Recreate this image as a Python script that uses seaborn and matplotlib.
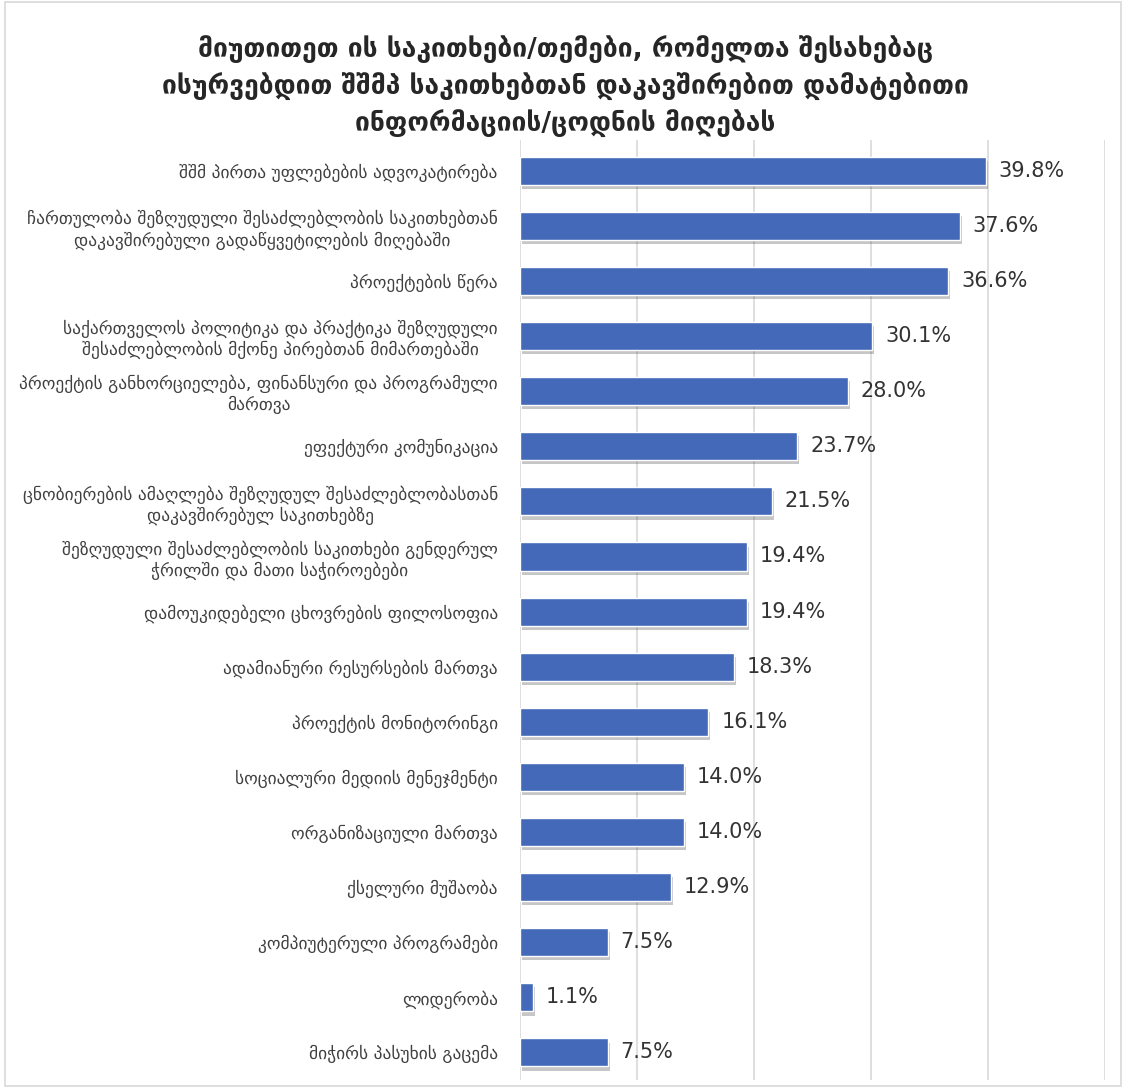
import numpy as np
import pandas as pd
import matplotlib
matplotlib.use('agg')
import matplotlib.pyplot as plt
import matplotlib.patheffects as pe
from matplotlib.patches import Rectangle
import seaborn as sns

# Chart data
title = ("მიუთითეთ ის საკითხები/თემები, რომელთა შესახებაც\n"
         "ისურვებდით შშმპ საკითხებთან დაკავშირებით დამატებითი\n"
         "ინფორმაციის/ცოდნის მიღებას")

categories = [
    "შშმ პირთა უფლებების ადვოკატირება",
    "ჩართულობა შეზღუდული შესაძლებლობის საკითხებთან\nდაკავშირებული გადაწყვეტილების მიღებაში",
    "პროექტების წერა",
    "საქართველოს პოლიტიკა და პრაქტიკა შეზღუდული\nშესაძლებლობის მქონე პირებთან მიმართებაში",
    "პროექტის განხორციელება, ფინანსური და პროგრამული\nმართვა",
    "ეფექტური კომუნიკაცია",
    "ცნობიერების ამაღლება შეზღუდულ შესაძლებლობასთან\nდაკავშირებულ საკითხებზე",
    "შეზღუდული შესაძლებლობის საკითხები გენდერულ\nჭრილში და მათი საჭიროებები",
    "დამოუკიდებელი ცხოვრების ფილოსოფია",
    "ადამიანური რესურსების მართვა",
    "პროექტის მონიტორინგი",
    "სოციალური მედიის მენეჯმენტი",
    "ორგანიზაციული მართვა",
    "ქსელური მუშაობა",
    "კომპიუტერული პროგრამები",
    "ლიდერობა",
    "მიჭირს პასუხის გაცემა",
]
values = [39.8, 37.6, 36.6, 30.1, 28.0, 23.7, 21.5, 19.4, 19.4,
          18.3, 16.1, 14.0, 14.0, 12.9, 7.5, 1.1, 7.5]

df = pd.DataFrame({'Topic': categories, 'Percent': values})

sns.set_theme(style="white")
plt.rcParams['font.family'] = ['DejaVu Sans']

fig = plt.figure(figsize=(11.26, 10.88), dpi=100)
ax = fig.add_axes([0.4618, 0.0074, 0.5195, 0.8635])

sns.barplot(data=df, x='Percent', y='Topic', orient='h', color='#4369B8',
            width=0.51, saturation=1, ax=ax)

# soft shadow under bars
for bar in ax.patches:
    bar.set_path_effects([pe.SimplePatchShadow(offset=(1.5, -3), shadow_rgbFace='#444444', alpha=0.3),
                          pe.Normal()])

# value labels
for i, v in enumerate(values):
    ax.text(v + 1.1, i, f"{v:.1f}%", va='center', ha='left', fontsize=15, color='#333333')

ax.set_xlim(0, 50)
ax.set_ylim(16.5, -0.55)
ax.set_xticks(np.arange(0, 51, 10))
ax.set_xticklabels([])
ax.xaxis.grid(True, color='#d9d9d9', linewidth=1.2)
ax.set_axisbelow(True)
for s in ax.spines.values():
    s.set_visible(False)
ax.set_xlabel('')
ax.set_ylabel('')
ax.tick_params(axis='both', length=0)
ax.tick_params(axis='y', pad=16, labelsize=12.5, labelcolor='#404040')
for lbl in ax.get_yticklabels():
    lbl.set_multialignment('center')

fig.text(0.502, 0.968, title, ha='center', va='top', fontsize=19, fontweight='bold',
         color='#262626', linespacing=1.45)

# chart area border
fig.patches.append(Rectangle((0.004, 0.002), 0.992, 0.996, transform=fig.transFigure,
                             fill=False, edgecolor='#d9d9d9', linewidth=1.2))

plt.savefig('out.png', dpi=100)
plt.close()
